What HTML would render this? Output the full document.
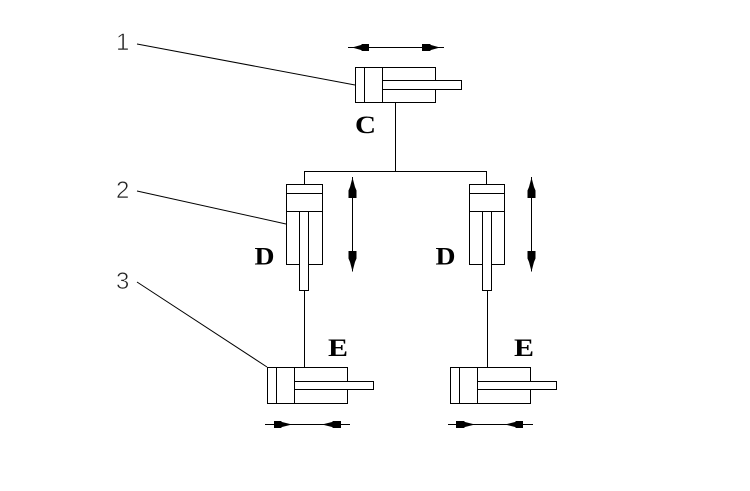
<!DOCTYPE html>
<html>
<head>
<meta charset="utf-8">
<style>
html,body{margin:0;padding:0;background:#fff;}
svg{display:block;}
.b{font-family:"Liberation Serif",serif;font-weight:bold;font-size:25px;fill:#000;}
.n{font-family:"Liberation Sans",sans-serif;font-size:24px;fill:#222;stroke:#fff;stroke-width:.6px;paint-order:normal;}
</style>
</head>
<body>
<svg width="750" height="491" viewBox="0 0 750 491" xmlns="http://www.w3.org/2000/svg">
<rect width="750" height="491" fill="#fff"/>
<g fill="none" stroke="#000" stroke-width="1">
<!-- top cylinder -->
<rect x="355.5" y="67.5" width="80" height="35"/>
<path d="M364.5 67.5V102.5M382.5 67.5V102.5"/>
<rect x="382.5" y="80.5" width="79" height="9" fill="#fff"/>
<path d="M395.5 102.5V171.5M304.5 184V171.5H486.5V184"/>
<!-- D left -->
<rect x="286.5" y="184.5" width="36" height="80"/>
<path d="M286.5 193.5H322.5M286.5 211.5H322.5"/>
<rect x="299.5" y="211.5" width="9" height="79" fill="#fff"/>
<path d="M304.5 290.5V367"/>
<!-- D right -->
<rect x="469.5" y="184.5" width="35" height="80"/>
<path d="M469.5 193.5H504.5M469.5 211.5H504.5"/>
<rect x="482.5" y="211.5" width="9" height="79" fill="#fff"/>
<path d="M487.5 290.5V367"/>
<!-- E left -->
<rect x="267.5" y="367.5" width="80" height="36"/>
<path d="M276.5 367.5V403.5M294.5 367.5V403.5"/>
<rect x="294.5" y="381.5" width="79" height="8" fill="#fff"/>
<!-- E right -->
<rect x="450.5" y="367.5" width="80" height="36"/>
<path d="M459.5 367.5V403.5M477.5 367.5V403.5"/>
<rect x="477.5" y="381.5" width="79" height="8" fill="#fff"/>
<!-- arrow shafts -->
<path d="M348 47.5H444M352.5 177V271.5M531.5 177V271.5M265 424.5H350M448 424.5H533"/>
<!-- leaders -->
<path d="M137 44L355 85M137 191L286 224M137 282L267 367"/>
</g>
<g fill="#000">
<!-- blunt, heavy arrowheads: narrow tip widening to a squared base -->
<path d="M352 47.5L361 45L362 44H369V51H362L361 50Z"/>
<path d="M440 47.5L431 45L430 44H422V51H430L431 50Z"/>
<path d="M352.500 177.500L350 187L348.500 190.500V198H356.500V190.500L355 187Z"/>
<path d="M352.500 271.500L350 262L348.500 258.500V251H356.500V258.500L355 262Z"/>
<path d="M531.500 177.500L529 187L527.500 190.500V198H535.500V190.500L534 187Z"/>
<path d="M531.500 271.500L529 262L527.500 258.500V251H535.500V258.500L534 262Z"/>
<path d="M292 424.500L282 422L281 421H274V428H281L282 427Z"/>
<path d="M322 424.500L332 422L333 421H341V428H333L332 427Z"/>
<path d="M475 424.500L465 422L464 421H456V428H464L465 427Z"/>
<path d="M505 424.500L515 422L516 421H523V428H516L515 427Z"/>
<text class="b" x="355" y="133" textLength="21" lengthAdjust="spacingAndGlyphs">C</text>
<text class="b" x="254.500" y="264.500" textLength="20" lengthAdjust="spacingAndGlyphs">D</text>
<text class="b" x="435.500" y="264.500" textLength="20" lengthAdjust="spacingAndGlyphs">D</text>
<text class="b" x="328" y="356" textLength="20" lengthAdjust="spacingAndGlyphs">E</text>
<text class="b" x="514" y="356" textLength="20" lengthAdjust="spacingAndGlyphs">E</text>
<text class="n" x="116" y="50">1</text>
<text class="n" x="116" y="198">2</text>
<text class="n" x="116" y="289">3</text>
</g>
</svg>
</body>
</html>
